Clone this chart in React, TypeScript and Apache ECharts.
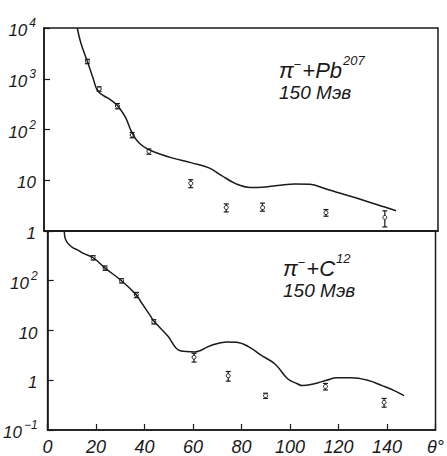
import React, { useEffect, useRef } from "react";
import * as echarts from "echarts";

// X axis ticks (degrees)
const xTicks = [0, 20, 40, 60, 80, 100, 120, 140];

// Top panel: pi- + Pb207 — theoretical curve
const topCurveX = [13.5, 15, 17.6, 20, 21.6, 24, 26.5, 29.7, 31.5, 33.3, 35.8, 38.6, 42.6, 47, 52, 60, 67, 72, 78, 84, 90, 96, 102, 108, 114, 120, 130, 138, 143];
const topCurveY = [10000, 5000, 2200, 1000, 600, 470, 400, 300, 230, 166, 85, 54, 40, 33, 27.6, 22, 17.5, 12.5, 8.5, 7.2, 7.4, 8.0, 8.4, 8.3, 6.9, 5.6, 4.0, 3.0, 2.5];
// Top panel: experimental points
const topPtsX = [17.6, 22.4, 29.8, 35.8, 42.6, 59.6, 74, 88.7, 114.5, 138.4];
const topPtsY = [2200, 630, 290, 78, 37, 8.7, 2.9, 3.0, 2.3, 1.85];
const topPtsErr = [0.1, 0.1, 0.12, 0.12, 0.12, 0.18, 0.18, 0.18, 0.15, 0.35];

// Bottom panel: pi- + C12 — theoretical curve
const botCurveX = [6.9, 7.1, 7.8, 9, 10.5, 12.3, 15, 18.8, 23.7, 30.5, 36.6, 38.6, 42.6, 43.8, 49.5, 54.7, 60.8, 66.9, 73.7, 78, 83, 88, 93.9, 99, 103, 105, 110, 115, 119.4, 125, 132, 138, 143, 147];
const botCurveY = [1000, 760, 620, 525, 460, 417, 350, 290, 180, 100, 52, 37, 19, 15.5, 7.8, 3.9, 3.7, 4.9, 5.9, 5.8, 4.7, 3.2, 2.1, 1.07, 0.85, 0.78, 0.85, 1.0, 1.12, 1.12, 1.0, 0.78, 0.62, 0.49];
// Bottom panel: experimental points
const botPtsX = [18.8, 23.7, 30.5, 36.6, 43.8, 60.4, 74.5, 89.9, 114.6, 138.8];
const botPtsY = [290, 180, 100, 52, 15, 2.9, 1.23, 0.49, 0.75, 0.36];
const botPtsErr = [0.1, 0.1, 0.1, 0.12, 0.1, 0.2, 0.22, 0.12, 0.15, 0.2];

const FONT = "'Liberation Sans', Arial, sans-serif";
const INK = "#1a1a1a";

function logLabel(v: number, hideTop: number | null): string {
  if (hideTop !== null && Math.abs(v - hideTop) < 1e-9 * hideTop) return "";
  const e = Math.round(Math.log10(v));
  if (e === 0) return "{b|1}";
  if (e === 1) return "{b|10}";
  const sup = e < 0 ? "\u2212" + String(-e) : String(e);
  return "{b|10}{s|" + sup + "}";
}

const richY = {
  b: { fontSize: 17, fontStyle: "italic", fontFamily: FONT, color: INK, lineHeight: 22, verticalAlign: "bottom" },
  s: { fontSize: 12, fontStyle: "italic", fontFamily: FONT, color: INK, lineHeight: 22, verticalAlign: "bottom", padding: [0, 0, 10, 2] },
};

function errRender(params: any, api: any) {
  const x = api.value(0);
  const y = api.value(1);
  const e = api.value(2);
  const p = api.coord([x, y]);
  const lo = api.coord([x, y * (1 - e)]);
  const hi = api.coord([x, y * (1 + e)]);
  const st = { stroke: INK, lineWidth: 1.2 };
  return {
    type: "group",
    children: [
      { type: "line", shape: { x1: p[0], y1: lo[1], x2: p[0], y2: hi[1] }, style: st },
      { type: "line", shape: { x1: p[0] - 2.5, y1: lo[1], x2: p[0] + 2.5, y2: lo[1] }, style: st },
      { type: "line", shape: { x1: p[0] - 2.5, y1: hi[1], x2: p[0] + 2.5, y2: hi[1] }, style: st },
      { type: "circle", shape: { cx: p[0], cy: p[1], r: 2 }, style: { fill: "#fff", stroke: INK, lineWidth: 1 } },
    ],
  };
}

export default function App() {
  const ref = useRef<HTMLDivElement>(null);
  useEffect(() => {
    if (!ref.current) return;
    const chart = echarts.init(ref.current, null, { renderer: "svg" });
    const xAxisBase = {
      type: "value",
      min: 0,
      max: 160,
      interval: 20,
      splitLine: { show: false },
      axisLine: { show: true, lineStyle: { color: INK, width: 1.5 } },
    };
    const annot = (x: number, y: number, elem: string, sup: string) => ({
      type: "text",
      left: x,
      top: y,
      style: {
        text: "{m|\u03C0}{s|\u2212}{m|+" + elem + "}{s2|" + sup + "}\n{t|150 \u041C\u044D\u0432}",
        rich: {
          m: { fontSize: 22, fontStyle: "italic", fontFamily: FONT, fill: INK, lineHeight: 26, verticalAlign: "bottom" },
          s: { fontSize: 13, fontFamily: FONT, fill: INK, lineHeight: 26, verticalAlign: "bottom", padding: [0, 1, 10, 0] },
          s2: { fontSize: 13, fontStyle: "italic", fontFamily: FONT, fill: INK, lineHeight: 26, verticalAlign: "bottom", padding: [0, 0, 14, 1] },
          t: { fontSize: 19, fontStyle: "italic", fontFamily: FONT, fill: INK, lineHeight: 22 },
        },
      },
    });
    chart.setOption({
      animation: false,
      backgroundColor: "#fff",
      grid: [
        { left: 44, right: 9, top: 28, height: 203, show: true, borderColor: INK, borderWidth: 1.5, backgroundColor: "transparent" },
        { left: 44, right: 9, top: 231, height: 201, show: true, borderColor: INK, borderWidth: 1.5, backgroundColor: "transparent" },
      ],
      xAxis: [
        { ...xAxisBase, gridIndex: 0, axisTick: { show: false }, axisLabel: { show: false } },
        {
          ...xAxisBase,
          gridIndex: 1,
          axisTick: { show: true, inside: true, length: 6, lineStyle: { color: INK, width: 1.2 } },
          axisLabel: {
            show: true,
            margin: 8,
            fontSize: 18,
            fontStyle: "italic",
            fontFamily: FONT,
            color: INK,
            formatter: (v: number) => (v === 160 ? "\u03B8\u00B0" : xTicks.indexOf(v) >= 0 ? String(v) : ""),
          },
        },
      ],
      yAxis: [
        {
          type: "log",
          logBase: 10,
          gridIndex: 0,
          min: 1,
          max: 10000,
          splitLine: { show: false },
          axisLine: { show: true, lineStyle: { color: INK, width: 1.5 } },
          axisTick: { show: true, inside: true, length: 6, lineStyle: { color: INK, width: 1.2 } },
          axisLabel: { margin: 8, formatter: (v: number) => logLabel(v, null), rich: richY },
        },
        {
          type: "log",
          logBase: 10,
          gridIndex: 1,
          min: 0.1,
          max: 1000,
          splitLine: { show: false },
          axisLine: { show: true, lineStyle: { color: INK, width: 1.5 } },
          axisTick: { show: true, inside: true, length: 6, lineStyle: { color: INK, width: 1.2 } },
          axisLabel: { margin: 10, formatter: (v: number) => logLabel(v, 1000), rich: richY },
        },
      ],
      series: [
        {
          type: "line",
          xAxisIndex: 0,
          yAxisIndex: 0,
          smooth: 0.4,
          showSymbol: false,
          lineStyle: { color: INK, width: 1.5 },
          data: topCurveX.map((x, i) => [x, topCurveY[i]]),
        },
        {
          type: "custom",
          xAxisIndex: 0,
          yAxisIndex: 0,
          renderItem: errRender,
          encode: { x: 0, y: 1 },
          data: topPtsX.map((x, i) => [x, topPtsY[i], topPtsErr[i]]),
        },
        {
          type: "line",
          xAxisIndex: 1,
          yAxisIndex: 1,
          smooth: 0.4,
          showSymbol: false,
          lineStyle: { color: INK, width: 1.5 },
          data: botCurveX.map((x, i) => [x, botCurveY[i]]),
        },
        {
          type: "custom",
          xAxisIndex: 1,
          yAxisIndex: 1,
          renderItem: errRender,
          encode: { x: 0, y: 1 },
          data: botPtsX.map((x, i) => [x, botPtsY[i], botPtsErr[i]]),
        },
      ],
      graphic: [annot(279, 54, "Pb", "207"), annot(283, 252, "C", "12")],
    });
    return () => chart.dispose();
  }, []);
  return <div ref={ref} style={{ width: 447, height: 456, position: "absolute", left: 0, top: 0 }} />;
}
